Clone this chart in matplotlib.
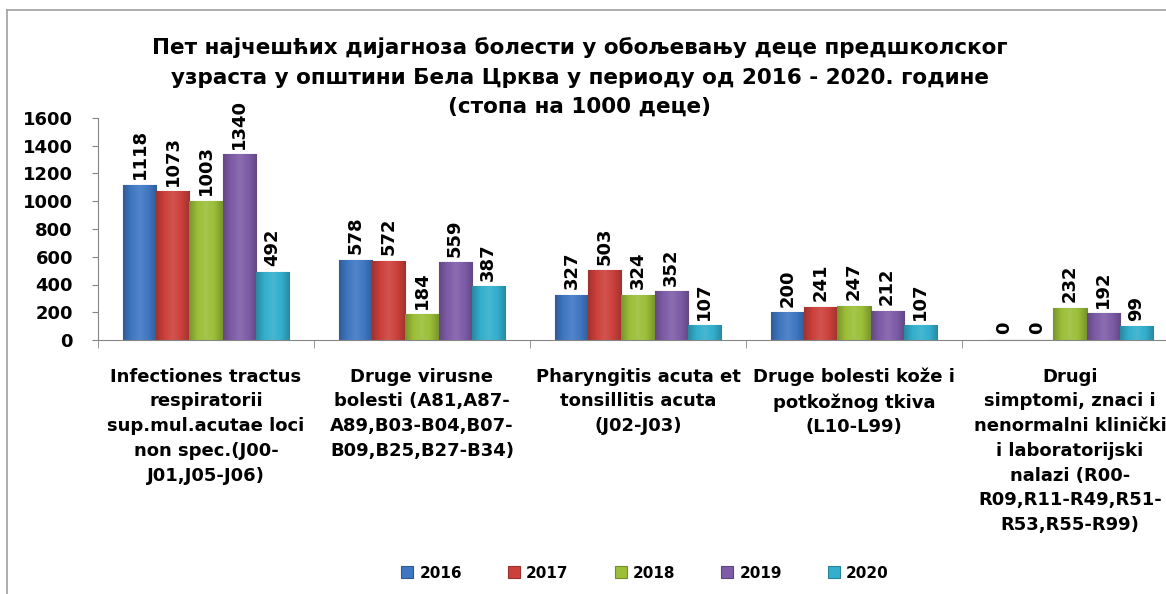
import numpy as np
import matplotlib
matplotlib.use("Agg")
import matplotlib.pyplot as plt
from matplotlib.colors import LinearSegmentedColormap, to_rgb
from matplotlib.lines import Line2D

# podaci (stopa na 1000 dece)
categories = [
    "Infectiones tractus\nrespiratorii\nsup.mul.acutae loci\nnon spec.(J00-\nJ01,J05-J06)",
    "Druge virusne\nbolesti (A81,A87-\nA89,B03-B04,B07-\nB09,B25,B27-B34)",
    "Pharyngitis acuta et\ntonsillitis acuta\n(J02-J03)",
    "Druge bolesti kože i\npotkožnog tkiva\n(L10-L99)",
    "Drugi\nsimptomi, znaci i\nnenormalni klinički\ni laboratorijski\nnalazi (R00-\nR09,R11-R49,R51-\nR53,R55-R99)",
]
years = ["2016", "2017", "2018", "2019", "2020"]
v2016 = [1118, 578, 327, 200, 0]
v2017 = [1073, 572, 503, 241, 0]
v2018 = [1003, 184, 324, 247, 232]
v2019 = [1340, 559, 352, 212, 192]
v2020 = [492, 387, 107, 107, 99]
series = [v2016, v2017, v2018, v2019, v2020]
colors = ["#3f77c2", "#cc403b", "#9bbf38", "#7e5ca8", "#33afcd"]

title_lines = ["Пет најчешћих дијагноза болести у обољевању деце предшколског",
               "узраста у општини Бела Црква у периоду од 2016 - 2020. године",
               "(стопа на 1000 деце)"]

plt.rcParams['font.family'] = ['DejaVu Sans']
plt.rcParams['font.weight'] = 'bold'

fig = plt.figure(figsize=(11.66, 5.94), dpi=100)
ax = fig.add_axes([98 / 1166, 1 - 340 / 594, 1080 / 1166, 222 / 594])

x = np.arange(len(categories))
w = 0.153


def shade(c, f):
    r = np.array(to_rgb(c))
    if f < 1:
        return tuple(r * f)
    return tuple(r + (1 - r) * (f - 1))


for i, (vals, c) in enumerate(zip(series, colors)):
    bars = ax.bar(x + (i - 2) * w, vals, w, color=c, edgecolor=shade(c, 0.75),
                  linewidth=0.8, label=years[i], zorder=2)
    cmap = LinearSegmentedColormap.from_list(
        "g%d" % i, [shade(c, 0.78), c, shade(c, 1.1), c, shade(c, 0.78)])
    grad = np.linspace(0, 1, 64).reshape(1, -1)
    for b, v in zip(bars, vals):
        if v > 0:
            bx, by = b.get_x(), b.get_y()
            im = ax.imshow(grad, cmap=cmap, aspect='auto', zorder=2.5,
                           extent=[bx, bx + b.get_width(), by, by + b.get_height()])
            im.set_clip_path(b)
        ax.annotate(str(v), (b.get_x() + b.get_width() / 2, v), xytext=(0, 4),
                    textcoords='offset points', rotation=90, ha='center', va='bottom',
                    fontsize=13, fontweight='bold', annotation_clip=False)

ax.set_xlim(-0.5, len(categories) - 0.5)
ax.set_ylim(0, 1600)
ax.set_yticks(np.arange(0, 1601, 200))
ax.tick_params(axis='y', labelsize=13, length=4, color='#868686', pad=14)
ax.set_xticks(x)
ax.set_xticklabels(categories, fontsize=13, fontweight='bold', linespacing=1.48)
ax.tick_params(axis='x', length=0, pad=20)
ax.set_xticks(np.arange(-0.5, len(categories), 1), minor=True)
ax.tick_params(axis='x', which='minor', length=6, color='#868686')
for s in ['top', 'right']:
    ax.spines[s].set_visible(False)
for s in ['left', 'bottom']:
    ax.spines[s].set_color('#868686')

# naslov, red po red
for k, line in enumerate(title_lines):
    fig.text(580 / 1166, 1 - (48 + 29.5 * k) / 594, line, ha='center', va='center',
             fontsize=15.5, fontweight='bold')

handles, labels = ax.get_legend_handles_labels()
fig.legend(handles, labels, loc='center', bbox_to_anchor=(645 / 1166, 1 - 573 / 594),
           ncol=5, frameon=False, fontsize=11, handlelength=0.8, handleheight=0.8,
           columnspacing=3.0, handletextpad=0.4)

# okvir grafikona
fig.add_artist(Line2D([7 / 1166, 7 / 1166], [0, 1 - 10 / 594], color='#a0a0a0', lw=1.2))
fig.add_artist(Line2D([7 / 1166, 1], [1 - 10 / 594, 1 - 10 / 594], color='#a0a0a0', lw=1.2))

fig.savefig("out.png", dpi=100)
